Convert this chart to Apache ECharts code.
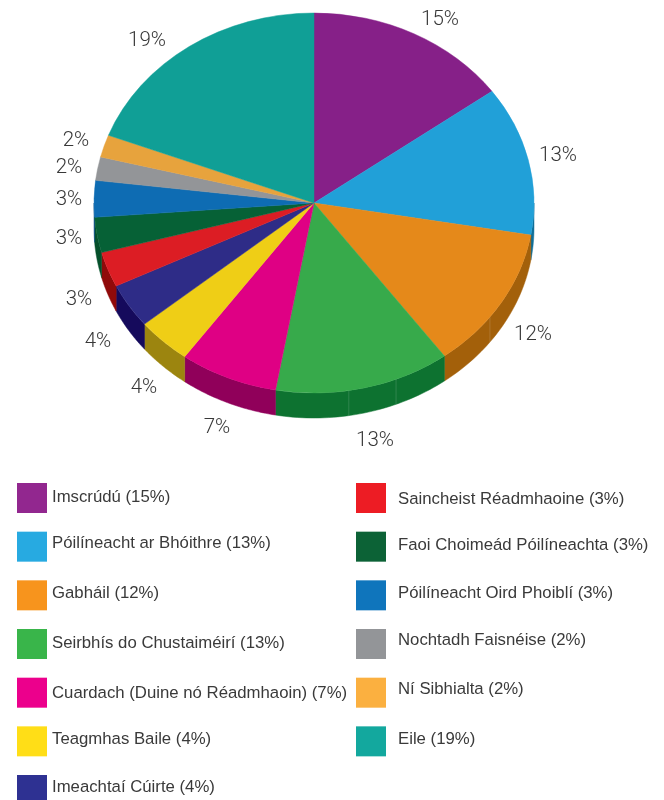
<!DOCTYPE html>
<html>
<head>
<meta charset="utf-8">
<style>
html, body { margin: 0; padding: 0; background: #fff; }
#main { width: 664px; height: 800px; }
</style>
<script src="https://cdn.jsdelivr.net/npm/echarts@6/dist/echarts.min.js"></script>
</head>
<body>
<div id="main"></div>
<script>
const categories = ['Imscrúdú', 'Póilíneacht ar Bhóithre', 'Gabháil', 'Seirbhís do Chustaiméirí',
    'Cuardach (Duine nó Réadmhaoin)', 'Teagmhas Baile', 'Imeachtaí Cúirte', 'Saincheist Réadmhaoine',
    'Faoi Choimeád Póilíneachta', 'Póilíneacht Oird Phoiblí', 'Nochtadh Faisnéise', 'Ní Sibhialta', 'Eile']
// printed rounded
const shares = [15, 12.7, 12.2, 12.9, 7.2, 4, 3.8, 3, 3, 3.1, 2, 1.9, 19.2]

const topColors = ['#862088', '#21a0d8', '#e5891a', '#37aa4b', '#df0084', '#efce16', '#2e2c87',
    '#dc1d24', '#066136', '#0e6cb3', '#939598', '#e7a33d', '#109f96']
const sideColors = ['#5a1060', '#0f6f98', '#a3600a', '#0d7230', '#90005a', '#9c850f', '#150a5c',
    '#900a0a', '#05502b', '#0a4f85', '#66686a', '#a87020', '#0a6f69']
const legendColors = ['#92278f', '#27aae1', '#f7941d', '#39b54a', '#ec008c', '#ffde17', '#2e3192',
    '#ed1c24', '#0c6236', '#0f75bc', '#939598', '#fbb040', '#13a89e']

// where the percentage labels sit, same order as categories
const labelSpots = [[440, 20], [558, 156], [533, 335], [375, 441], [217, 428], [144, 388], [98, 342],
    [79, 300], [69, 239], [69, 200], [69, 168], [76, 141], [147, 41]]
// legend text does not sit level with its swatch, px up from centre
const legendTextLift = [1, 3, 2, 1, -1, 2, 3, -1, 1, 2, 4, 3, 2]
// faint vertical joins in the side wall, degrees clockwise from 12 o'clock
const seamAngles = [126.9, 158.1, 170.9]

const pie = { cx: 314, cy: 203, rx: 220, ry: 190, depth: 25 }
const labels = categories.map((name, i) => name + ' (' + Math.round(shares[i]) + '%)')
const total = shares.reduce((a, b) => a + b, 0)

function sliceAngles(i) {
    const before = shares.slice(0, i).reduce((a, b) => a + b, 0)
    return {
        start: -Math.PI / 2 + before / total * Math.PI * 2,
        end: -Math.PI / 2 + (before + shares[i]) / total * Math.PI * 2
    }
}

function rimPoint(angle, drop) {
    return [pie.cx + pie.rx * Math.cos(angle), pie.cy + pie.ry * Math.sin(angle) + drop]
}

// side wall of a slice, only the part that faces the viewer
function sidePoints(i) {
    const { start, end } = sliceAngles(i)
    const from = Math.max(start, 0)
    const to = Math.min(end, Math.PI)
    if (to <= from) return null
    const upper = []
    const lower = []
    for (let k = 0; k <= 40; k++) {
        const a = from + (to - from) * k / 40
        upper.push(rimPoint(a, 0))
        lower.unshift(rimPoint(a, pie.depth))
    }
    return upper.concat(lower)
}

function renderSlice(params) {
    const i = params.seriesIndex
    const { start, end } = sliceAngles(i)
    const children = []
    const side = sidePoints(i)
    if (side) {
        children.push({
            type: 'polygon',
            z2: 1,
            shape: { points: side },
            style: { fill: sideColors[i], stroke: sideColors[i], lineWidth: 0.5 }
        })
        seamAngles.forEach(deg => {
            const a = deg / 180 * Math.PI - Math.PI / 2
            if (a < start || a >= end) return
            const p = rimPoint(a, 0)
            const q = rimPoint(a, pie.depth)
            children.push({
                type: 'line',
                z2: 2,
                shape: { x1: p[0], y1: p[1], x2: q[0], y2: q[1] },
                style: { stroke: 'rgba(255,255,255,0.14)', lineWidth: 1 }
            })
        })
    }
    children.push({
        type: 'sector',
        z2: 5,
        x: pie.cx,
        y: pie.cy,
        scaleY: pie.ry / pie.rx,
        shape: { cx: 0, cy: 0, r: pie.rx, r0: 0, startAngle: start, endAngle: end, clockwise: true },
        style: { fill: topColors[i], stroke: topColors[i], lineWidth: 0.5 }
    })
    children.push({
        type: 'text',
        z2: 6,
        x: labelSpots[i][0],
        y: labelSpots[i][1],
        style: {
            text: Math.round(shares[i]) + '%',
            fill: '#383838',
            font: '300 20.5px Roboto, sans-serif',
            align: 'center',
            verticalAlign: 'middle'
        }
    })
    return { type: 'group', children: children }
}

function legendBlock(from, to, left, textGap) {
    const rich = {}
    labels.forEach((name, i) => {
        const lift = legendTextLift[i]
        rich['row' + i] = {
            color: '#3a3a3a',
            fontFamily: 'Liberation Sans, Arial, sans-serif',
            fontSize: 16.75,
            padding: [Math.max(-lift, 0) * 2, 0, Math.max(lift, 0) * 2, textGap]
        }
    })
    return {
        orient: 'vertical',
        left: left,
        top: 483,
        height: 340,
        padding: 0,
        icon: 'rect',
        itemWidth: 30,
        itemHeight: 30,
        itemGap: 18.67,
        selectedMode: false,
        formatter: name => '{row' + labels.indexOf(name) + '|' + name + '}',
        textStyle: {
            color: '#3a3a3a',
            fontFamily: 'Liberation Sans, Arial, sans-serif',
            fontSize: 16.75,
            rich: rich
        },
        data: labels.slice(from, to).map((name, k) => ({
            name: name,
            itemStyle: { color: legendColors[from + k] }
        }))
    }
}

const chart = echarts.init(document.getElementById('main'), null, { renderer: 'canvas' })
chart.setOption({
    animation: false,
    backgroundColor: '#fff',
    legend: [legendBlock(0, 7, 17, 0), legendBlock(7, 13, 356, 7)],
    series: labels.map((name, i) => ({
        type: 'custom',
        name: name,
        coordinateSystem: 'none',
        silent: true,
        renderItem: renderSlice,
        itemStyle: { color: legendColors[i] },
        data: [shares[i]]
    }))
})
</script>
</body>
</html>
